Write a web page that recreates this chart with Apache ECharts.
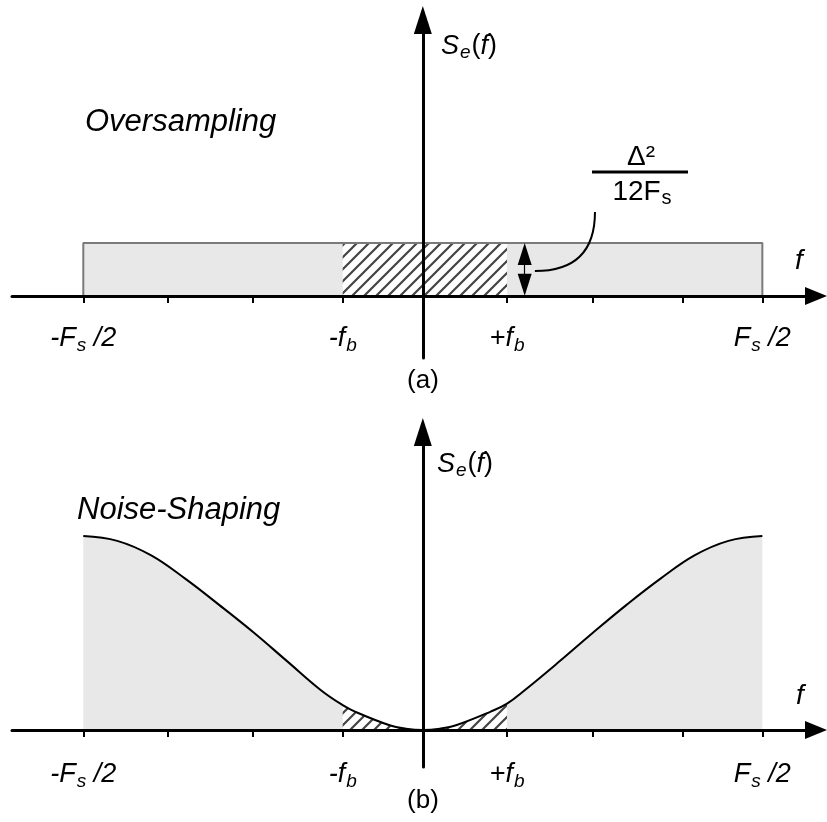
<!DOCTYPE html>
<html>
<head>
<meta charset="utf-8">
<script src="https://cdn.jsdelivr.net/npm/echarts@6/dist/echarts.min.js"></script>
<style>
  html, body { margin: 0; padding: 0; background: #fff; }
  #chart { width: 827px; height: 822px; }
</style>
</head>
<body>
<div id="chart"></div>
<script>
// Frequency axis normalised so that ±1 corresponds to ±Fs/2
const bandEdges = [-0.236, 0.248];                 // -fb, +fb
const tickValues = [-1, -0.75, -0.5, -0.236, 0.248, 0.5, 0.765, 1];
const labelValues = [-1, -0.236, 0.248, 1];
const labelTexts = ['{i|-F}{s|s}{i| /2}', '{i|-f}{s|b}', '{i|+f}{s|b}', '{i|F}{s|s}{i| /2}'];

// (a) flat quantisation-noise density, height = Δ²/12Fs
const flatX = [-1, -1, 1, 1];
const flatY = [0, 1, 1, 0];
const inbandFlatX = [-0.236, -0.236, 0.248, 0.248];
const inbandFlatY = [0, 1, 1, 0];

// (b) shaped noise density (peak normalised to 1)
const shapedX = [-1, -0.9, -0.8, -0.7, -0.6, -0.5, -0.4, -0.3, -0.236, -0.2, -0.1, -0.05, 0,
                 0.05, 0.1, 0.2, 0.248, 0.3, 0.4, 0.5, 0.6, 0.7, 0.8, 0.9, 1];
const shapedY = [1.0, 0.975, 0.90, 0.78, 0.645, 0.505, 0.355, 0.205, 0.128, 0.095, 0.026, 0.007, 0,
                 0.007, 0.026, 0.095, 0.136, 0.205, 0.35, 0.5, 0.645, 0.78, 0.90, 0.975, 1.0];

// callout in (a): double arrow marking the density height, and its leader curve
const heightArrow = { x: 0.30, from: 0.21, to: 0.79 };
const leader = { from: [0.330, 0.47], to: [0.507, 1.585] };

const zip = (xs, ys) => xs.map((x, i) => [x, ys[i]]);
const flatData = zip(flatX, flatY);
const inbandFlatData = zip(inbandFlatX, inbandFlatY);
const shapedData = zip(shapedX, shapedY);
const inbandShapedData = shapedData.filter(p => p[0] >= bandEdges[0] && p[0] <= bandEdges[1]);

// diagonal hatch used for the in-band region
function hatchPattern() {
  const n = 12;
  const c = document.createElement('canvas');
  c.width = n; c.height = n;
  const g = c.getContext('2d');
  g.fillStyle = '#ffffff';
  g.fillRect(0, 0, n, n);
  g.strokeStyle = '#444444';
  g.lineWidth = 2.2;
  g.lineCap = 'square';
  g.beginPath();
  g.moveTo(-n / 2, n / 2); g.lineTo(n / 2, -n / 2);
  g.moveTo(0, n); g.lineTo(n, 0);
  g.moveTo(n / 2, n * 1.5); g.lineTo(n * 1.5, n / 2);
  g.stroke();
  return { image: c, repeat: 'repeat' };
}
const hatch = hatchPattern();

const FONT = '"Liberation Sans", Arial, sans-serif';
const richLabel = {
  i: { fontFamily: FONT, fontStyle: 'italic', fontSize: 27, color: '#000' },
  s: { fontFamily: FONT, fontStyle: 'italic', fontSize: 19, color: '#000', padding: [14, 0, 0, 1] }
};

function nearestLabel(v) {
  let best = 0;
  labelValues.forEach((lv, i) => { if (Math.abs(lv - v) < Math.abs(labelValues[best] - v)) best = i; });
  return labelTexts[best];
}

function freqAxis(gridIndex, labelMargin) {
  return {
    type: 'value', gridIndex, min: -1.21, max: 1.158, z: 10,
    axisLine: { onZero: true, lineStyle: { color: '#000', width: 3 },
                symbol: ['none', 'triangle'], symbolSize: [18, 22] },
    axisTick: { show: true, customValues: tickValues, length: 7, lineStyle: { color: '#000', width: 2 } },
    axisLabel: { show: true, customValues: labelValues, formatter: nearestLabel, margin: labelMargin, rich: richLabel },
    splitLine: { show: false }
  };
}
function innerTickAxis(gridIndex, yIndex, values) {
  return {
    type: 'value', gridIndex, min: -1.21, max: 1.158, z: 11,
    axisLine: { show: true, onZero: true, onZeroAxisIndex: yIndex, lineStyle: { opacity: 0 } },
    axisTick: { show: true, inside: true, customValues: values, length: 7, lineStyle: { color: '#000', width: 2 } },
    axisLabel: { show: false },
    splitLine: { show: false }
  };
}
function densityAxis(gridIndex, min, max) {
  return {
    type: 'value', gridIndex, min, max, z: 10,
    axisLine: { onZero: true, lineStyle: { color: '#000', width: 3 },
                symbol: ['none', 'triangle'], symbolSize: [18, 28] },
    axisTick: { show: false }, axisLabel: { show: false }, splitLine: { show: false }
  };
}

function txt(x, y, text, size, opts) {
  return {
    type: 'text', x, y, z: 100,
    style: Object.assign({ text, fill: '#000', font: `${size}px ${FONT}`,
                           textAlign: 'center', textVerticalAlign: 'middle' }, opts || {})
  };
}
const seRich = {
  i: { fontFamily: FONT, fontStyle: 'italic', fontSize: 27, color: '#000' },
  u: { fontFamily: FONT, fontSize: 27, color: '#000' },
  s: { fontFamily: FONT, fontStyle: 'italic', fontSize: 19, color: '#000', padding: [13, 1, 0, 1] }
};
const seText = '{i|S}{s|e}{u|(}{i|f}{u|)}';

const chart = echarts.init(document.getElementById('chart'), null, { renderer: 'canvas' });
chart.setOption({
  animation: false,
  backgroundColor: '#fff',
  grid: [
    { left: 12, right: 11, top: 20, bottom: 464 },
    { left: 12, right: 11, top: 432, bottom: 55 }
  ],
  xAxis: [
    freqAxis(0, -36), innerTickAxis(0, 0, bandEdges),
    freqAxis(1, -9), innerTickAxis(1, 1, tickValues)
  ],
  yAxis: [densityAxis(0, -1.17, 5.207), densityAxis(1, -0.1907, 1.536)],
  series: [
    // (a)
    { type: 'line', xAxisIndex: 0, yAxisIndex: 0, data: flatData, showSymbol: false, silent: true,
      lineStyle: { width: 0 }, areaStyle: { color: '#e8e8e8', opacity: 1 } },
    { type: 'line', xAxisIndex: 0, yAxisIndex: 0, data: inbandFlatData, showSymbol: false, silent: true,
      lineStyle: { width: 0 }, areaStyle: { color: hatch, opacity: 1 } },
    { type: 'line', xAxisIndex: 0, yAxisIndex: 0, data: flatData, showSymbol: false, silent: true,
      lineStyle: { color: '#7a7a7a', width: 2 },
      markLine: {
        silent: true, animation: false, label: { show: false },
        symbol: ['triangle', 'triangle'], symbolSize: [14, 22],
        lineStyle: { color: '#000', width: 1.2, type: 'solid' },
        data: [[ { coord: [heightArrow.x, heightArrow.from] }, { coord: [heightArrow.x, heightArrow.to] } ]]
      } },
    // (b)
    { type: 'line', xAxisIndex: 2, yAxisIndex: 1, data: shapedData, smooth: 0.4,
      showSymbol: false, silent: true, lineStyle: { width: 0 }, areaStyle: { color: '#e8e8e8', opacity: 1 } },
    { type: 'line', xAxisIndex: 2, yAxisIndex: 1, data: inbandShapedData, smooth: 0.4,
      showSymbol: false, silent: true, lineStyle: { width: 0 }, areaStyle: { color: hatch, opacity: 1 } },
    { type: 'line', xAxisIndex: 2, yAxisIndex: 1, data: shapedData, smooth: 0.4,
      showSymbol: false, silent: true, lineStyle: { color: '#000', width: 2 } }
  ],
  graphic: [
    // panel (a)
    txt(441, 46, seText, 27, { textAlign: 'left', rich: seRich }),
    txt(85, 122, 'Oversampling', 31, { textAlign: 'left', font: `italic 31px ${FONT}` }),
    txt(799, 261, 'f', 28, { font: `italic 28px ${FONT}` }),
    txt(641, 157, 'Δ²', 28),
    { type: 'line', z: 100, shape: { x1: 592, y1: 172, x2: 688, y2: 172 }, style: { stroke: '#000', lineWidth: 3 } },
    txt(642, 192, '{n|12F}{s|s}', 28, { rich: {
      n: { fontFamily: FONT, fontSize: 28, color: '#000' },
      s: { fontFamily: FONT, fontSize: 20, color: '#000', padding: [12, 0, 0, 1] } } }),
    txt(423, 381, '(a)', 26),
    // panel (b)
    txt(437, 464, seText, 27, { textAlign: 'left', rich: seRich }),
    txt(77, 510, 'Noise-Shaping', 31, { textAlign: 'left', font: `italic 31px ${FONT}` }),
    txt(800, 696, 'f', 28, { font: `italic 28px ${FONT}` }),
    txt(423, 801, '(b)', 26)
  ]
});

// leader curve from the height arrow up to the Δ²/12Fs label, placed through the axes of (a)
const pA = chart.convertToPixel({ xAxisIndex: 0, yAxisIndex: 0 }, leader.from);
const pB = chart.convertToPixel({ xAxisIndex: 0, yAxisIndex: 0 }, leader.to);
chart.setOption({
  graphic: [{
    id: 'leader', type: 'bezierCurve', z: 100,
    shape: { x1: pA[0], y1: pA[1], x2: pB[0], y2: pB[1], cpx1: pB[0], cpy1: pA[1] },
    style: { stroke: '#000', lineWidth: 2, fill: null }
  }]
});
</script>
</body>
</html>
